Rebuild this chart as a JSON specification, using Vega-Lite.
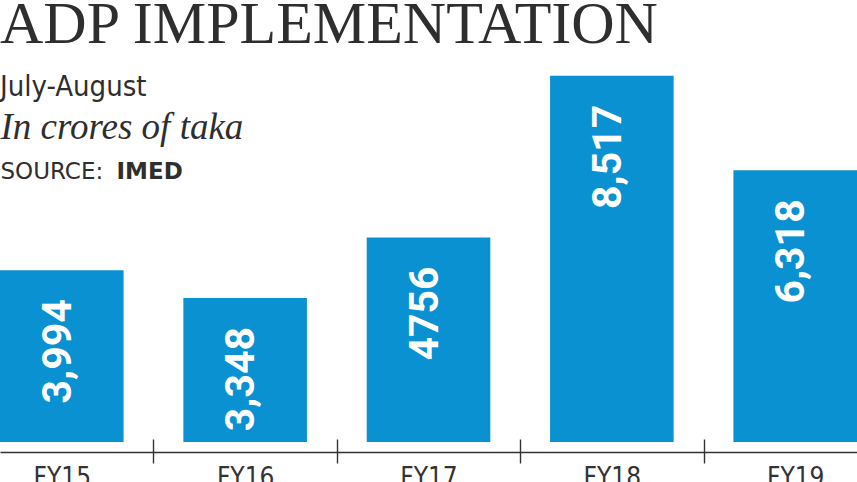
{
  "$schema": "https://vega.github.io/schema/vega-lite/v6.json",
  "width": 857,
  "height": 430,
  "autosize": {"type": "none"},
  "padding": {"top": 12, "left": 0, "right": 0, "bottom": 40},
  "background": "white",
  "title": {
    "text": "ADP IMPLEMENTATION",
    "subtitle": "July-August",
    "anchor": "start",
    "frame": "group",
    "orient": "top",
    "font": "Liberation Serif",
    "fontSize": 60,
    "fontWeight": "normal",
    "color": "#2e2e2e",
    "subtitleFont": "DejaVu Sans Condensed, Roboto",
    "subtitleFontSize": 29,
    "subtitleColor": "#2e2e2e",
    "subtitlePadding": 17,
    "offset": -91
  },
  "data": {
    "values": [
      {"year": "FY15", "value": 3994, "label": "3,994"},
      {"year": "FY16", "value": 3348, "label": "3,348"},
      {"year": "FY17", "value": 4756, "label": "4756"},
      {"year": "FY18", "value": 8517, "label": "8,517"},
      {"year": "FY19", "value": 6318, "label": "6,318"}
    ]
  },
  "layer": [
    {
      "mark": {"type": "bar", "color": "#0a91d1"},
      "encoding": {
        "x": {
          "field": "year",
          "type": "nominal",
          "sort": null,
          "scale": {"paddingInner": 0.326, "paddingOuter": 0},
          "axis": {
            "orient": "bottom",
            "offset": 10,
            "domainColor": "#333333",
            "domainWidth": 1.4,
            "tickColor": "#333333",
            "tickWidth": 1.4,
            "tickSize": 11,
            "tickOffset": 91.7,
            "labelOffset": -91.7,
            "labelPadding": 1,
            "labelAngle": 0,
            "labelFont": "DejaVu Sans Condensed, Roboto",
            "labelFontSize": 26,
            "labelColor": "#333333",
            "labelBaseline": "top",
            "title": "IMED",
            "titleFont": "DejaVu Sans",
            "titleFontWeight": "bold",
            "titleFontSize": 23,
            "titleColor": "#2e2e2e",
            "titleAlign": "left",
            "titleBaseline": "alphabetic",
            "titleX": 116,
            "titleY": -274
          }
        },
        "y": {
          "field": "value",
          "type": "quantitative",
          "scale": {"domain": [0, 10000], "nice": false},
          "axis": {
            "orient": "left",
            "domain": false,
            "ticks": false,
            "labels": false,
            "grid": false,
            "title": "In crores of taka",
            "titleAngle": 0,
            "titleAlign": "left",
            "titleBaseline": "alphabetic",
            "titleX": 0,
            "titleY": 126,
            "titleFont": "Liberation Serif",
            "titleFontStyle": "italic",
            "titleFontWeight": "normal",
            "titleFontSize": 37,
            "titleColor": "#2e2e2e"
          }
        }
      }
    },
    {
      "mark": {
        "type": "text",
        "angle": 270,
        "align": "right",
        "baseline": "middle",
        "dx": -29,
        "dy": -3,
        "font": "Roboto",
        "fontWeight": "bold",
        "fontSize": 41,
        "color": "white"
      },
      "encoding": {
        "x": {
          "field": "year",
          "type": "nominal",
          "sort": null,
          "scale": {"paddingInner": 0.326, "paddingOuter": 0},
          "axis": {
            "orient": "top",
            "offset": -440,
            "domain": false,
            "labels": false,
            "grid": false,
            "ticks": true,
            "tickColor": "#333333",
            "tickWidth": 1.4,
            "tickSize": 13,
            "tickOffset": 91.7,
            "title": null
          }
        },
        "y": {
          "field": "value",
          "type": "quantitative",
          "scale": {"domain": [0, 10000], "nice": false},
          "axis": {
            "orient": "right",
            "domain": false,
            "ticks": false,
            "labels": false,
            "grid": false,
            "title": "SOURCE:",
            "titleAngle": 0,
            "titleAlign": "left",
            "titleBaseline": "alphabetic",
            "titleX": -857,
            "titleY": 166,
            "titleFont": "DejaVu Sans",
            "titleFontWeight": "normal",
            "titleFontSize": 23,
            "titleColor": "#2e2e2e"
          }
        },
        "text": {"field": "label"}
      }
    }
  ],
  "resolve": {"axis": {"x": "independent", "y": "independent"}},
  "config": {"view": {"stroke": null}}
}
